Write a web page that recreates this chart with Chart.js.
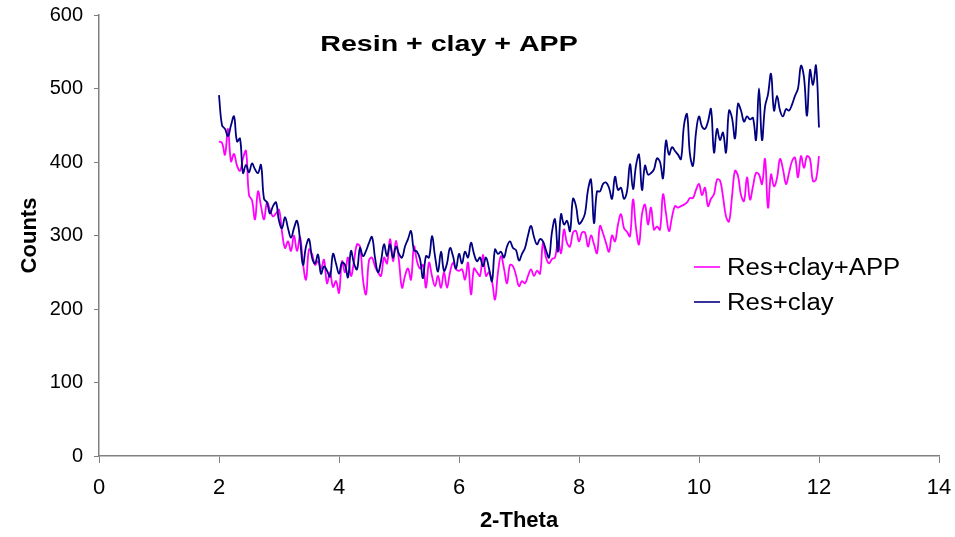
<!DOCTYPE html>
<html>
<head>
<meta charset="utf-8">
<script src="https://cdn.jsdelivr.net/npm/chart.js@4"></script>
<style>
  html, body { margin: 0; padding: 0; background: #fff; }
  #wrap { width: 955px; height: 537px; }
</style>
</head>
<body>
<div id="wrap"><canvas id="xrd" width="955" height="537"></canvas></div>
<script>
// 2-theta sampling grid: 2.00 .. 12.00, step 0.05
const theta = [];
for (let i = 0; i <= 200; i++) theta.push(+(2 + i * 0.05).toFixed(2));

// Res+clay, rows of 10 points (0.5 deg each)
const resClay = [
  491, 450, 445, 435, 450, 462, 428, 432, 385, 396,
  386, 398, 390, 385, 396, 350, 345, 330, 340, 345,
  320, 310, 325, 310, 297, 310, 320, 295, 260, 285,
  295, 270, 262, 274, 248, 258, 252, 244, 275, 262,
  248, 263, 260, 243, 279, 262, 254, 283, 272, 279,
  290, 298, 270, 250, 265, 288, 272, 288, 270, 285,
  275, 270, 285, 295, 306, 280, 278, 268, 242, 272,
  270, 299, 272, 251, 278, 252, 262, 283, 272, 255,
  275, 262, 278, 270, 290, 275, 265, 270, 258, 270,
  255, 238, 281, 275, 278, 270, 285, 292, 283, 280,
  266, 275, 283, 300, 313, 298, 288, 295, 292, 280,
  270, 305, 322, 278, 329, 315, 320, 306, 350, 340,
  316, 320, 330, 362, 376, 317, 360, 360, 370, 372,
  365, 350, 380, 362, 365, 350, 360, 397, 363, 395,
  410, 362, 395, 383, 385, 390, 405, 400, 378, 429,
  410, 420, 415, 410, 404, 450, 465, 410, 395, 440,
  462, 448, 445, 455, 472, 413, 445, 430, 440, 413,
  470, 460, 432, 479, 470, 455, 462, 458, 460, 430,
  500, 430, 475, 492, 520, 470, 490, 470, 462, 472,
  470, 478, 490, 500, 531, 515, 463, 525, 505, 531,
  447
];

// Res+clay+APP
const resClayApp = [
  428, 426, 410, 445, 401, 411, 395, 388, 405, 415,
  355, 348, 322, 360, 340, 322, 345, 335, 326, 330,
  335, 305, 283, 292, 279, 300, 279, 298, 262, 240,
  281, 275, 260, 265, 255, 267, 235, 250, 230, 238,
  222, 265, 250, 270, 245, 265, 288, 285, 240, 220,
  266, 270, 258, 250, 245, 270, 262, 295, 265, 293,
  265, 229, 245, 255, 240, 285, 265, 255, 260, 229,
  263, 245, 231, 245, 229, 250, 229, 250, 263, 254,
  252, 254, 240, 263, 220, 255, 250, 245, 274, 245,
  250, 238, 213, 250, 272, 255, 235, 260, 258, 246,
  231, 238, 235, 245, 254, 245, 252, 248, 290, 270,
  262, 268, 270, 292, 276, 308, 290, 285, 304, 306,
  292, 304, 304, 285, 300, 288, 276, 313, 303, 290,
  278, 300, 292, 315, 329, 310, 305, 299, 349, 310,
  288, 329, 342, 315, 338, 308, 312, 308, 356, 330,
  306, 325, 340, 338, 340, 342, 345, 351, 351, 362,
  370, 355, 365, 340, 350, 356, 376, 375, 353, 326,
  319, 353, 388, 381, 355, 347, 379, 349, 367, 385,
  383, 370, 404, 338, 383, 367, 378, 404, 390, 370,
  385, 401, 406, 379, 408, 392, 408, 404, 374, 376,
  408
];

const xTicks = [0, 2, 4, 6, 8, 10, 12, 14];
const yTicks = [0, 100, 200, 300, 400, 500, 600];
const chartTitle = "Resin + clay + APP";
const legendOrder = ["Res+clay+APP", "Res+clay"];

const FONT = "'Liberation Sans', Arial, sans-serif";
const axisGray = "#808080";

function toPoints(ys) {
  return theta.map((t, i) => ({ x: t, y: ys[i] }));
}

// text in the original is a bit wider than plain Arial, so stretch it
function wideText(ctx, text, x, y, sx, align) {
  ctx.save();
  ctx.translate(x, y);
  ctx.scale(sx, 1);
  ctx.textAlign = align;
  ctx.fillText(text, 0, 0);
  ctx.restore();
}

// title and legend sit inside the plot, like the Excel original
const overlay = {
  id: "overlay",
  afterDraw(chart) {
    const ctx = chart.ctx;
    ctx.save();
    ctx.fillStyle = "#000";
    ctx.textBaseline = "alphabetic";
    ctx.font = "bold 22px " + FONT;
    wideText(ctx, chartTitle, 449, 51, 1.3, "center");

    ctx.font = "23px " + FONT;
    legendOrder.forEach((label, i) => {
      const ds = chart.data.datasets.find((d) => d.label === label);
      const y = 267 + i * 35;
      ctx.strokeStyle = ds.borderColor;
      ctx.lineWidth = 1.6;
      ctx.beginPath();
      ctx.moveTo(694, y);
      ctx.lineTo(720, y);
      ctx.stroke();
      ctx.fillStyle = "#000";
      wideText(ctx, label, 727, y + 8, 1.12, "left");
    });
    ctx.restore();
  },
};

new Chart(document.getElementById("xrd"), {
  type: "line",
  data: {
    datasets: [
      {
        label: "Res+clay",
        data: toPoints(resClay),
        borderColor: "#000080",
        borderWidth: 1.8,
        pointRadius: 0,
        tension: 0.4,
        fill: false,
      },
      {
        label: "Res+clay+APP",
        data: toPoints(resClayApp),
        borderColor: "#FF00FF",
        borderWidth: 1.8,
        pointRadius: 0,
        tension: 0.4,
        fill: false,
      },
    ],
  },
  options: {
    responsive: false,
    animation: false,
    layout: { padding: { top: 15, right: 16, left: 0, bottom: 0 } },
    plugins: {
      legend: { display: false },
      tooltip: { enabled: false },
    },
    scales: {
      x: {
        type: "linear",
        min: 0,
        max: 14,
        afterBuildTicks: (s) => { s.ticks = xTicks.map((v) => ({ value: v })); },
        afterFit: (s) => {
          s.height = 81;
          s.paddingLeft = 0;
          s.paddingRight = 0;
        },
        ticks: { color: "#000", font: { family: FONT, size: 22 }, padding: 12, maxRotation: 0 },
        grid: { drawOnChartArea: false, color: axisGray, tickLength: 7 },
        border: { color: axisGray, width: 1.5 },
        title: { display: true, text: "2-Theta", color: "#000", font: { family: FONT, size: 22, weight: "bold" }, padding: { top: 0, bottom: 3 } },
      },
      y: {
        min: 0,
        max: 600,
        afterBuildTicks: (s) => { s.ticks = yTicks.map((v) => ({ value: v })); },
        afterFit: (s) => {
          s.width = 99;
          s.paddingTop = 0;
          s.paddingBottom = 0;
        },
        ticks: { color: "#000", font: { family: FONT, size: 20 }, padding: 11 },
        grid: { drawOnChartArea: false, color: axisGray, tickLength: 5 },
        border: { color: axisGray, width: 1.5 },
        title: { display: true, text: "Counts", color: "#000", font: { family: FONT, size: 22, weight: "bold" }, padding: { top: 17, bottom: 0 } },
      },
    },
  },
  plugins: [overlay],
});
</script>
</body>
</html>
